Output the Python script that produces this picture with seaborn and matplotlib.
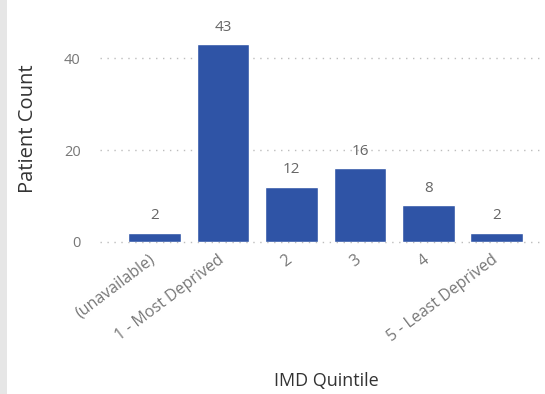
import matplotlib
matplotlib.use("Agg")
import matplotlib.pyplot as plt
import matplotlib.transforms as mtransforms
import seaborn as sns
import pandas as pd
from matplotlib.patches import Rectangle

categories = ["(unavailable)", "1 - Most Deprived", "2", "3", "4", "5 - Least Deprived"]
counts = [2, 43, 12, 16, 8, 2]
y_ticks = [0, 20, 40]

df = pd.DataFrame({"IMD Quintile": categories, "Patient Count": counts})

sns.set_theme(style="white")
plt.rcParams['font.family'] = ['Open Sans', 'DejaVu Sans']

fig = plt.figure(figsize=(5.45, 3.94), dpi=100)
fig.patch.set_facecolor("white")
fig.patches.append(Rectangle((0, 0), 7/545, 1, transform=fig.transFigure,
                             facecolor="#E6E6E6", edgecolor="none", zorder=0))

ax = fig.add_axes([100/545, 1-242/394, 444/545, 222/394])
sns.barplot(data=df, x="IMD Quintile", y="Patient Count", color="#2F54A6",
            saturation=1, width=0.77, ax=ax, zorder=3)

ax.set_xlim(-0.8, 5.69)
ax.set_ylim(0, 48.3)
ax.set_yticks(y_ticks)
ax.yaxis.grid(True, linestyle=(0, (1, 4)), color="#BDBDBD", linewidth=1.0, zorder=0)
ax.set_axisbelow(True)
for gl in ax.get_ygridlines():
    gl.set_clip_on(False)
for s in ax.spines.values():
    s.set_visible(False)

ax.tick_params(axis="y", length=0, colors="#777777", labelsize=10.5, pad=14)
ax.tick_params(axis="x", length=0, colors="#777777", labelsize=11.5, pad=7)
offset = mtransforms.ScaledTranslation(-6/100, 0, fig.dpi_scale_trans)
for lbl in ax.get_xticklabels():
    lbl.set_rotation(37)
    lbl.set_ha("right")
    lbl.set_va("top")
    lbl.set_rotation_mode("anchor")
    lbl.set_transform(lbl.get_transform() + offset)

for c in ax.containers:
    ax.bar_label(c, padding=7, color="#666666", fontsize=11)

ax.set_ylabel("Patient Count", color="#333333", fontsize=14.5)
ax.set_xlabel("IMD Quintile", color="#333333", fontsize=13)
ax.yaxis.set_label_coords(-0.162, 0.509)
ax.yaxis.label.set_va("center")
ax.xaxis.set_label_coords(0.509, -0.626)
ax.xaxis.label.set_va("center")

fig.savefig("out.png", dpi=100)
